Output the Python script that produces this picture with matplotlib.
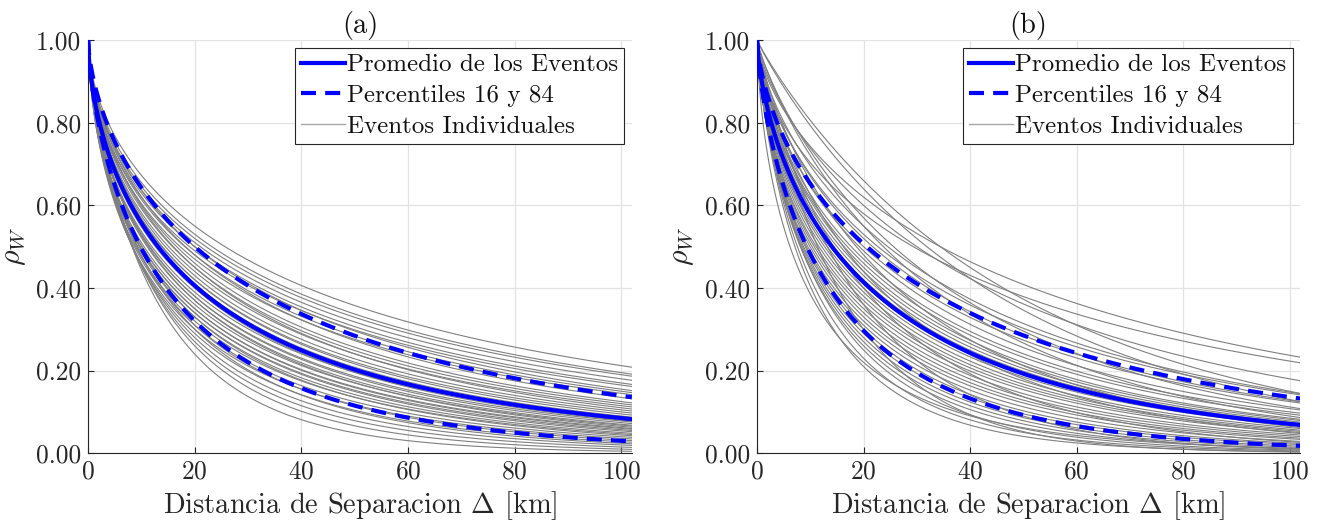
import numpy as np
import matplotlib
matplotlib.use("Agg")
import matplotlib.pyplot as plt

plt.rcParams['font.family'] = ['cmr10', 'DejaVu Serif']
plt.rcParams['mathtext.fontset'] = 'cm'
plt.rcParams['axes.formatter.use_mathtext'] = True
FS_TICK = 18.3
FS_LEG = 18
FS_LAB = 20.5

# ---- data: correlation values read at 20 km and 100 km for each curve ----
# panel (a)
a_ind_20 = [0.55, 0.53, 0.52, 0.51, 0.50, 0.49, 0.50, 0.48, 0.47, 0.48, 0.46,
            0.45, 0.44, 0.45, 0.43, 0.42, 0.42, 0.41, 0.40, 0.39, 0.40, 0.38,
            0.38, 0.37, 0.36, 0.37, 0.35, 0.35, 0.34, 0.34, 0.33, 0.32, 0.33,
            0.31, 0.30, 0.31, 0.29, 0.30, 0.28, 0.27, 0.26, 0.24]
a_ind_100 = [0.212, 0.195, 0.19, 0.18, 0.17, 0.165, 0.155, 0.15, 0.145, 0.135,
             0.125, 0.12, 0.115, 0.11, 0.105, 0.10, 0.095, 0.09, 0.088, 0.085,
             0.08, 0.078, 0.074, 0.07, 0.068, 0.065, 0.062, 0.06, 0.057, 0.054,
             0.05, 0.047, 0.044, 0.04, 0.036, 0.032, 0.028, 0.024, 0.02, 0.015,
             0.01, 0.005]
a_mean = (0.406, 0.085)
a_p84 = (0.50, 0.139)
a_p16 = (0.32, 0.030)

# panel (b)
b_ind_20 = [0.62, 0.58, 0.60, 0.66, 0.55, 0.53, 0.64, 0.52, 0.50, 0.57, 0.49,
            0.47, 0.46, 0.55, 0.45, 0.44, 0.43, 0.42, 0.41, 0.40, 0.48, 0.39,
            0.38, 0.37, 0.36, 0.44, 0.35, 0.34, 0.33, 0.32, 0.31, 0.40, 0.30,
            0.29, 0.28, 0.27, 0.26, 0.36, 0.25, 0.23, 0.21, 0.30, 0.22]
b_ind_100 = [0.237, 0.223, 0.18, 0.15, 0.148, 0.145, 0.13, 0.128, 0.125, 0.112,
             0.108, 0.10, 0.095, 0.09, 0.085, 0.082, 0.078, 0.075, 0.072, 0.068,
             0.065, 0.062, 0.058, 0.055, 0.052, 0.05, 0.046, 0.042, 0.038, 0.035,
             0.03, 0.028, 0.025, 0.022, 0.018, 0.015, 0.012, 0.01, 0.008, 0.006,
             0.004, 0.003, 0.012]
b_mean = (0.414, 0.071)
b_p84 = (0.507, 0.136)
b_p16 = (0.297, 0.019)

x_ticks = [0, 20, 40, 60, 80, 100]
y_ticks = [0.0, 0.2, 0.4, 0.6, 0.8, 1.0]
titles = ['(a)', '(b)']
labels = ['Promedio de los Eventos', 'Percentiles 16 y 84', 'Eventos Individuales']

h = np.linspace(0, 102, 600)


def model(v20, v100):
    # stretched exponential rho = exp(-a h^b) passing through the two read values
    b = np.log(np.log(v100) / np.log(v20)) / np.log(5.0)
    a = -np.log(v20) / 20.0 ** b
    return np.exp(-a * h ** b)


fig = plt.figure(figsize=(13.2, 5.27), dpi=100)
positions = [[0.0667, 0.14, 0.412, 0.784], [0.5735, 0.14, 0.4115, 0.784]]
panels = [(a_ind_20, a_ind_100, a_mean, a_p84, a_p16),
          (b_ind_20, b_ind_100, b_mean, b_p84, b_p16)]

for k, (i20, i100, mn, p84, p16) in enumerate(panels):
    ax = fig.add_axes(positions[k])
    for v20, v100 in zip(i20, i100):
        ax.plot(h, model(v20, v100), color='#808080', lw=0.8, zorder=2)
    ml, = ax.plot(h, model(*mn), color='blue', lw=3.0, zorder=4)
    dl, = ax.plot(h, model(*p84), color='blue', lw=3.0, zorder=4, dashes=(3.6, 2.2))
    ax.plot(h, model(*p16), color='blue', lw=3.0, zorder=4, dashes=(3.6, 2.2))
    gl, = ax.plot([], [], color='#a6a6a6', lw=1.0)

    ax.set_xlim(0, 102)
    ax.set_ylim(0, 1)
    ax.set_xticks(x_ticks)
    ax.set_yticks(y_ticks)
    ax.set_yticklabels([f'{v:.2f}' for v in y_ticks])
    ax.grid(True, color='#e3e3e3', lw=0.9, zorder=0)
    ax.set_axisbelow(True)
    for s in ['top', 'right']:
        ax.spines[s].set_visible(False)
    for s in ['left', 'bottom']:
        ax.spines[s].set_color('#262626')
        ax.spines[s].set_linewidth(0.8)
    ax.tick_params(direction='in', length=4, width=0.8, color='#262626',
                   labelsize=FS_TICK, labelcolor='#262626', pad=5)
    ax.set_xlabel(r'Distancia de Separacion $\Delta$ [km]', fontsize=FS_LAB,
                  color='#262626', labelpad=4)
    ax.set_ylabel(r'$\rho_W$', fontsize=FS_LAB + 1, color='#262626', labelpad=6)
    ax.set_title(titles[k], fontsize=FS_LAB, color='#111111', pad=5)
    leg = ax.legend([ml, dl, gl], labels, loc='upper right', fontsize=FS_LEG,
                    frameon=True, fancybox=False, framealpha=1,
                    edgecolor='#262626', handlelength=1.75, handletextpad=0.1,
                    borderpad=0.25, labelspacing=0.33, borderaxespad=0.3)
    leg.get_frame().set_linewidth(0.8)
    for t in leg.get_texts():
        t.set_color('#111111')

fig.savefig('out.png', dpi=100)
